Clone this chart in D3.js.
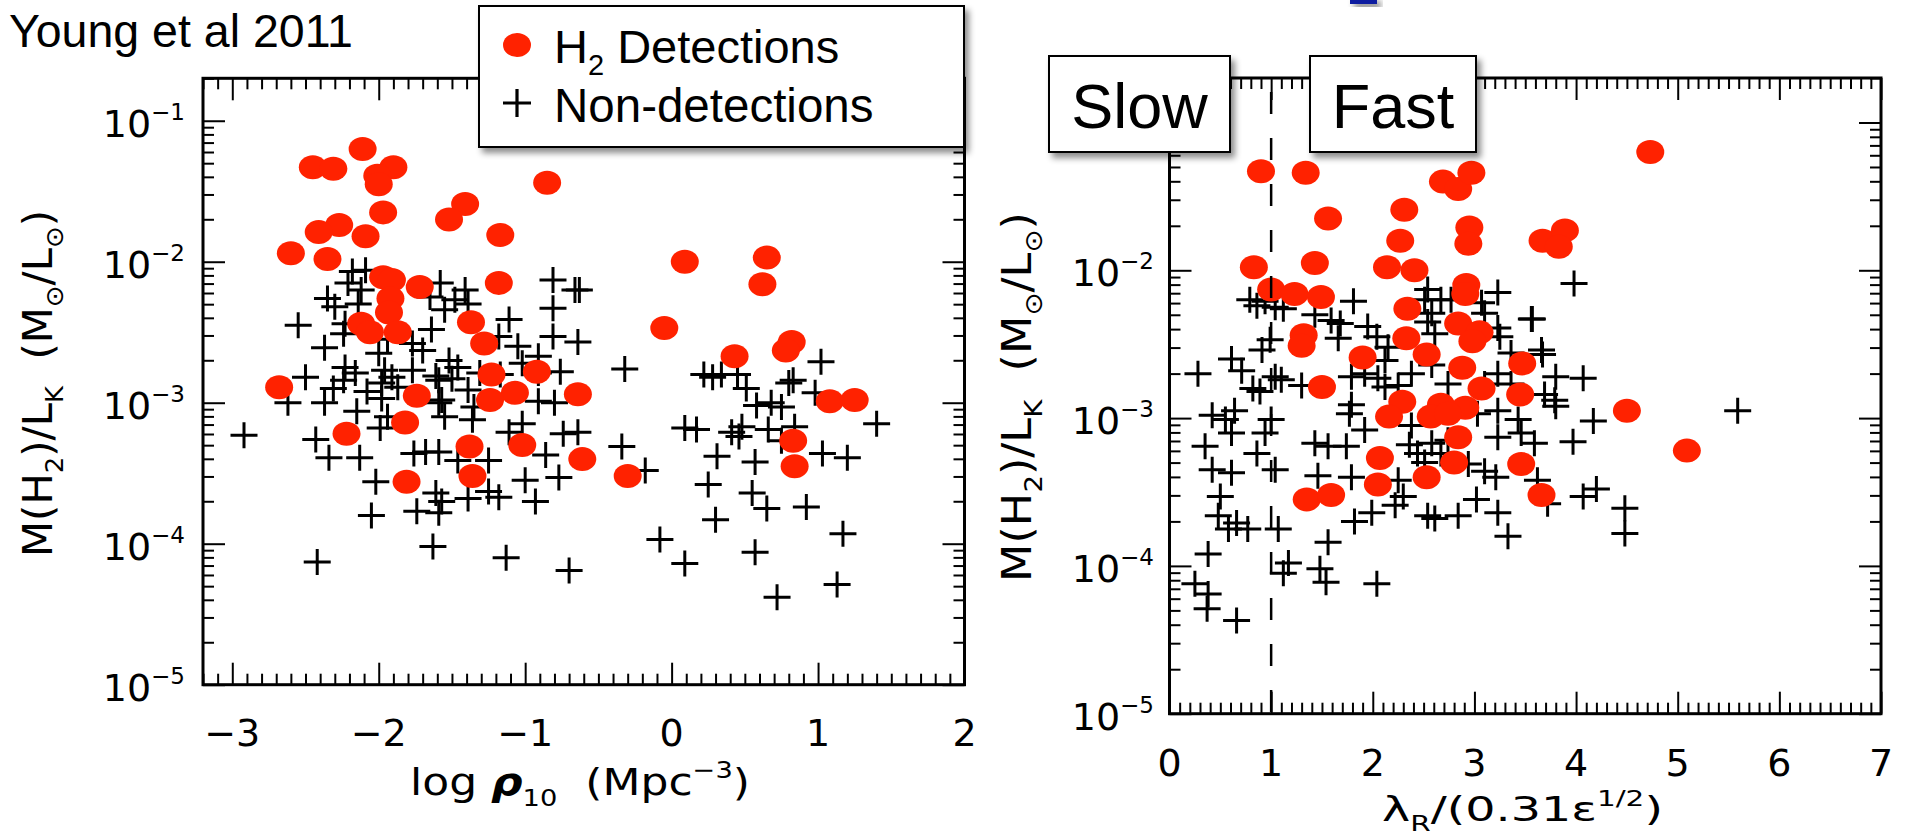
<!DOCTYPE html>
<html>
<head>
<meta charset="utf-8">
<script src="https://cdn.jsdelivr.net/npm/d3@7"></script>
<style>
html, body { margin: 0; padding: 0; background: #fff; }
svg { display: block; }
.tick-label { font-family: "DejaVu Sans", sans-serif; fill: #000; }
.box-label { font-family: "Liberation Sans", Arial, sans-serif; fill: #000; }
</style>
</head>
<body>
<svg id="chart" width="1906" height="838"></svg>
<script>
// values: [x, log10(M(H2)/LK)]
var leftDetections = [
    [-2.11, -1.20], [-2.45, -1.33], [-2.31, -1.34], [-1.90, -1.33], [-2.01, -1.39], [-2.00, -1.45],
    [-0.85, -1.44], [-1.41, -1.59], [-1.52, -1.70], [-1.97, -1.65], [-2.27, -1.74], [-2.41, -1.79],
    [-2.09, -1.82], [-1.17, -1.81], [-2.60, -1.94], [-2.35, -1.98], [-1.97, -2.11], [-1.91, -2.13],
    [-1.72, -2.18], [-1.18, -2.15], [-1.92, -2.26], [-1.93, -2.36], [-2.12, -2.44], [-2.06, -2.50],
    [-1.87, -2.50], [-1.37, -2.43], [-1.28, -2.58], [-1.23, -2.80], [-0.92, -2.78], [-2.68, -2.89],
    [-1.74, -2.95], [-1.82, -3.14], [-2.22, -3.22], [-1.07, -2.93], [-1.24, -2.98], [-0.64, -2.94],
    [-1.38, -3.31], [-1.02, -3.30], [-0.61, -3.40], [-1.36, -3.52], [-1.81, -3.56], [-0.30, -3.52],
    [0.09, -2.00], [0.65, -1.97], [0.62, -2.16], [-0.05, -2.47], [0.43, -2.67], [0.82, -2.57],
    [0.78, -2.63], [1.08, -2.99], [1.25, -2.98], [0.83, -3.27], [0.84, -3.45]
];

var leftNonDetections = [
    [-2.18, -2.07], [-2.09, -2.06], [-2.21, -2.15], [-2.12, -2.20], [-2.35, -2.26], [-2.30, -2.32],
    [-2.14, -2.30], [-2.55, -2.45], [-2.23, -2.44], [-2.37, -2.61], [-1.58, -2.15], [-1.41, -2.20],
    [-1.48, -2.27], [-1.55, -2.34], [-1.39, -2.30], [-1.11, -2.41], [-1.64, -2.48], [-0.81, -2.13],
    [-0.81, -2.33], [-0.66, -2.20], [-0.63, -2.20], [-0.81, -2.53], [-0.64, -2.57], [-1.05, -2.60],
    [-1.18, -2.53], [-1.77, -2.58], [-2.00, -2.65], [-2.23, -2.75], [-1.96, -2.77], [-1.52, -2.70],
    [-1.46, -2.75], [-0.91, -2.67], [-2.50, -2.82], [-1.02, -2.72], [-1.77, -2.77], [-2.24, -2.51],
    [-1.70, -2.63], [-0.91, -2.79], [-2.24, -2.84], [-2.31, -2.90], [-1.91, -2.82], [-1.87, -2.89],
    [-1.57, -2.98], [-2.08, -2.92], [-2.62, -3.00], [-2.37, -3.00], [-1.61, -2.81], [-1.31, -2.79],
    [-1.17, -2.80], [-0.76, -2.78], [-1.94, -2.55], [-1.65, -2.25], [-2.92, -3.23], [-2.43, -3.26],
    [-2.34, -3.39], [-2.13, -3.39], [-2.15, -3.06], [-2.02, -3.56], [-2.05, -3.80], [-1.99, -3.18],
    [-1.94, -3.10], [-1.98, -2.86], [-1.74, -3.77], [-1.59, -3.78], [-1.63, -4.02], [-1.61, -3.64],
    [-1.57, -3.70], [-1.76, -3.36], [-1.68, -3.35], [-1.59, -3.35], [-1.55, -3.10], [-1.59, -3.00],
    [-1.46, -3.41], [-1.36, -3.12], [-1.35, -3.03], [-1.39, -3.68], [-1.25, -3.41], [-1.25, -3.63],
    [-1.18, -3.67], [-1.13, -4.10], [-1.00, -3.55], [-0.93, -3.70], [-0.86, -3.37], [-0.77, -3.53],
    [-0.74, -3.22], [-0.80, -3.00], [-1.02, -3.15], [-1.11, -3.21], [-0.70, -4.19], [-2.42, -4.13],
    [-2.16, -2.79], [-1.59, -2.84], [-1.50, -2.83], [-0.91, -2.99], [-1.98, -2.97], [-1.39, -2.91],
    [-0.32, -2.76], [-0.34, -3.31], [-0.18, -3.48], [0.09, -3.18], [0.17, -3.19], [0.22, -2.80],
    [0.34, -2.80], [0.45, -2.80], [0.51, -2.90], [0.58, -3.02], [0.41, -3.21], [0.46, -3.24],
    [0.48, -3.17], [0.31, -3.38], [0.57, -3.42], [0.25, -3.58], [0.55, -3.64], [0.65, -3.75],
    [0.30, -3.83], [-0.08, -3.97], [0.09, -4.14], [0.57, -4.06], [0.72, -4.38], [0.92, -3.74],
    [1.13, -4.29], [1.17, -3.93], [1.40, -3.15], [1.03, -3.36], [1.20, -3.39], [0.68, -3.00],
    [0.75, -3.03], [0.80, -2.86], [0.83, -2.84], [0.66, -3.19], [0.75, -3.27], [0.84, -3.17],
    [0.98, -2.93], [-0.64, -3.21], [1.02, -2.71], [0.28, -2.82]
];

var rightDetections = [
    [0.90, -1.33], [1.34, -1.34], [2.69, -1.40], [2.84, -1.45], [2.97, -1.34], [2.31, -1.59],
    [1.56, -1.65], [2.95, -1.71], [2.94, -1.82], [3.67, -1.80], [3.89, -1.73], [3.83, -1.84],
    [2.27, -1.80], [0.83, -1.98], [1.43, -1.95], [2.14, -1.98], [2.41, -2.00], [1.00, -2.13],
    [1.23, -2.16], [1.49, -2.18], [2.92, -2.10], [2.91, -2.16], [2.34, -2.26], [2.84, -2.36],
    [3.05, -2.42], [2.98, -2.48], [1.32, -2.44], [1.30, -2.51], [2.33, -2.46], [1.90, -2.59],
    [2.53, -2.57], [2.88, -2.66], [3.47, -2.63], [1.50, -2.79], [3.07, -2.80], [3.45, -2.84],
    [2.29, -2.89], [2.67, -2.91], [2.91, -2.93], [2.16, -2.99], [2.57, -2.99], [2.74, -2.97],
    [2.84, -3.13], [2.07, -3.27], [2.80, -3.30], [2.53, -3.40], [2.05, -3.45], [1.35, -3.55],
    [1.59, -3.52], [3.46, -3.31], [3.66, -3.52], [4.73, -1.20], [4.50, -2.95], [5.09, -3.22]
];

var rightNonDetections = [
    [0.79, -2.20], [0.86, -2.24], [0.94, -2.21], [1.04, -2.25], [1.12, -2.26], [0.91, -2.54],
    [0.99, -2.47], [0.61, -2.60], [0.71, -2.68], [0.82, -2.80], [0.89, -2.82], [0.28, -2.70],
    [1.04, -2.72], [1.10, -2.74], [1.30, -2.78], [1.43, -2.30], [1.59, -2.34], [1.68, -2.36],
    [1.66, -2.46], [1.81, -2.21], [1.95, -2.38], [2.04, -2.45], [2.15, -2.52], [2.12, -2.61],
    [2.05, -2.73], [2.12, -2.79], [2.25, -2.78], [2.38, -2.70], [2.58, -2.64], [2.54, -2.13],
    [2.51, -2.20], [2.67, -2.20], [2.58, -2.29], [2.54, -2.35], [2.61, -2.43], [2.77, -2.20],
    [3.07, -2.22], [3.23, -2.15], [3.10, -2.29], [3.23, -2.39], [3.25, -2.45], [3.56, -2.33],
    [3.36, -2.56], [3.23, -2.70], [3.36, -2.77], [3.10, -2.77], [1.79, -2.91], [1.92, -2.70],
    [2.74, -2.77], [1.79, -2.72], [3.66, -2.54], [0.42, -2.98], [0.55, -3.01], [0.64, -2.95],
    [0.61, -3.10], [0.35, -3.19], [0.42, -3.35], [0.61, -3.37], [0.86, -3.24], [0.94, -3.10],
    [1.00, -3.01], [1.04, -3.35], [0.50, -3.53], [0.48, -3.66], [0.58, -3.75], [0.77, -3.75],
    [0.66, -3.71], [1.07, -3.75], [0.38, -3.92], [0.25, -4.12], [0.38, -4.19], [0.37, -4.29],
    [0.66, -4.37], [1.17, -3.98], [1.12, -4.05], [1.48, -4.02], [1.54, -4.11], [1.56, -3.84],
    [2.04, -4.12], [1.82, -3.70], [1.99, -3.64], [2.22, -3.59], [2.54, -3.66], [2.61, -3.68],
    [2.84, -3.66], [3.02, -3.55], [3.23, -3.64], [3.33, -3.80], [1.43, -3.17], [1.56, -3.19],
    [1.74, -3.19], [1.79, -3.40], [1.46, -3.39], [1.77, -2.97], [1.92, -3.08], [2.25, -3.42],
    [2.30, -3.53], [2.44, -3.24], [2.58, -3.17], [2.67, -3.24], [2.94, -3.31], [3.10, -3.36],
    [3.21, -3.40], [3.03, -2.97], [3.23, -2.95], [3.43, -3.01], [3.46, -3.10], [3.23, -3.13],
    [3.59, -3.17], [3.62, -3.42], [3.98, -2.09], [3.57, -2.33], [3.67, -2.57], [3.80, -2.72],
    [4.07, -2.73], [3.69, -2.84], [3.79, -2.88], [3.80, -2.92], [4.17, -3.02], [3.97, -3.16],
    [5.59, -2.95], [3.72, -3.58], [4.07, -3.53], [4.20, -3.48], [4.48, -3.61], [4.48, -3.78],
    [2.36, -3.18], [2.51, -3.30], [2.38, -3.05], [2.74, -3.15]
];

var leftYExponents = [-1, -2, -3, -4, -5];
var rightYExponents = [-2, -3, -4, -5];   // 10^-1 sits under the "Slow" box
var yDomain = [1e-5, 0.2];
var leftXTicks = [-3, -2, -1, 0, 1, 2];
var rightXTicks = [0, 1, 2, 3, 4, 5, 6, 7];
var slowFastBoundary = 1;

var svg = d3.select("#chart");

var filter = svg.append("defs").append("filter").attr("id", "shadow")
    .attr("x", "-10%").attr("y", "-10%").attr("width", "130%").attr("height", "140%");
filter.append("feDropShadow").attr("dx", 4).attr("dy", 5).attr("stdDeviation", 3)
    .attr("flood-color", "#000").attr("flood-opacity", 0.45);

var panels = [
    {
        xDomain: [-3.2, 2], xRange: [203, 964.5], yRange: [684.7, 78.3],
        xTicks: leftXTicks, yExponents: leftYExponents,
        detections: leftDetections, nonDetections: leftNonDetections,
        yLabelX: 185, xLabelY: 746
    },
    {
        xDomain: [0, 7], xRange: [1169.5, 1881], yRange: [713.7, 78],
        xTicks: rightXTicks, yExponents: rightYExponents,
        detections: rightDetections, nonDetections: rightNonDetections,
        yLabelX: 1154, xLabelY: 776, boundary: slowFastBoundary
    }
];

function styleAxis(g) {
    g.select(".domain").remove();
    g.selectAll("line").attr("stroke", "#000").attr("stroke-width", 2);
}

function isDecade(v) {
    var l = Math.log10(v);
    return Math.abs(l - Math.round(l)) < 1e-6;
}

function drawPanel(p) {
    var x = d3.scaleLinear().domain(p.xDomain).range(p.xRange);
    var y = d3.scaleLog().domain(yDomain).range(p.yRange);
    var left = p.xRange[0], right = p.xRange[1], top = p.yRange[1], bottom = p.yRange[0];
    var g = svg.append("g");

    var xMinor = d3.range(Math.round(p.xDomain[0] * 10), Math.round(p.xDomain[1] * 10) + 1)
        .map(function (i) { return i / 10; })
        .filter(function (v) { return Math.abs(v - Math.round(v)) > 1e-6; });
    var yAll = y.ticks();
    var yMajor = yAll.filter(isDecade);
    var yMinor = yAll.filter(function (v) { return !isDecade(v); });

    [[p.xTicks, 22], [xMinor, 11]].forEach(function (t) {
        g.append("g").attr("transform", "translate(0," + bottom + ")")
            .call(d3.axisBottom(x).tickValues(t[0]).tickSize(-t[1]).tickFormat("")).call(styleAxis);
        g.append("g").attr("transform", "translate(0," + top + ")")
            .call(d3.axisTop(x).tickValues(t[0]).tickSize(-t[1]).tickFormat("")).call(styleAxis);
    });
    [[yMajor, 22], [yMinor, 11]].forEach(function (t) {
        g.append("g").attr("transform", "translate(" + left + ",0)")
            .call(d3.axisLeft(y).tickValues(t[0]).tickSize(-t[1]).tickFormat("")).call(styleAxis);
        g.append("g").attr("transform", "translate(" + right + ",0)")
            .call(d3.axisRight(y).tickValues(t[0]).tickSize(-t[1]).tickFormat("")).call(styleAxis);
    });

    g.append("rect").attr("x", left).attr("y", top).attr("width", right - left).attr("height", bottom - top)
        .attr("fill", "none").attr("stroke", "#000").attr("stroke-width", 3);

    g.append("g").selectAll("path").data(p.nonDetections).join("path")
        .attr("d", function (d) {
            var cx = x(d[0]), cy = y(Math.pow(10, d[1]));
            return "M" + (cx - 13.5) + "," + cy + "h27M" + cx + "," + (cy - 13) + "v26";
        })
        .attr("stroke", "#000").attr("stroke-width", 3).attr("fill", "none");

    g.append("g").selectAll("ellipse").data(p.detections).join("ellipse")
        .attr("cx", function (d) { return x(d[0]); })
        .attr("cy", function (d) { return y(Math.pow(10, d[1])); })
        .attr("rx", 14).attr("ry", 12)
        .attr("fill", "#ff2200");

    if (p.boundary !== undefined) {
        g.append("line").attr("x1", x(p.boundary)).attr("x2", x(p.boundary))
            .attr("y1", 92).attr("y2", bottom)
            .attr("stroke", "#000").attr("stroke-width", 2.5).attr("stroke-dasharray", "22,24");
    }

    p.yExponents.forEach(function (e) {
        var t = g.append("text").attr("class", "tick-label").attr("font-size", 38)
            .attr("x", p.yLabelX).attr("y", y(Math.pow(10, e)) + 16).attr("text-anchor", "end");
        t.append("tspan").text("10");
        t.append("tspan").attr("dy", -17).attr("font-size", 23).text("\u2212" + (-e));
    });

    p.xTicks.forEach(function (v) {
        g.append("text").attr("class", "tick-label").attr("font-size", 38)
            .attr("x", x(v)).attr("y", p.xLabelY).attr("text-anchor", "middle")
            .text(d3.format("d")(v));
    });
}

panels.forEach(drawPanel);

// titles made of normal / subscript / superscript pieces, fitted to the measured length
function richText(parts, size, cx, cy, angle, length) {
    var t = svg.append("text").attr("class", "tick-label").attr("font-size", size)
        .style("white-space", "pre");
    var shift = 0;
    parts.forEach(function (part) {
        var s = t.append("tspan").text(part.t);
        var target = part.sub ? size * 0.28 : part.sup ? -size * 0.45 : 0;
        if (target !== shift) s.attr("dy", target - shift);
        shift = target;
        if (part.sub || part.sup) s.attr("font-size", size * 0.62);
        if (part.bold) s.attr("font-weight", "bold").attr("font-style", "italic");
    });
    var w = t.node().getComputedTextLength();
    t.attr("text-anchor", "middle")
        .attr("transform", "translate(" + cx + "," + cy + ") rotate(" + angle + ") scale(" + (length / w) + ",1)");
    return t;
}

var yTitleParts = [
    {t: "M(H"}, {t: "2", sub: true}, {t: ")/L"}, {t: "K", sub: true},
    {t: "  (M"}, {t: "\u2299", sub: true}, {t: "/L"}, {t: "\u2299", sub: true}, {t: ")"}
];
richText(yTitleParts, 40, 52, 383.5, -90, 347);
richText(yTitleParts, 40, 1031, 397, -90, 370);

richText([
    {t: "log "}, {t: "\u03c1", bold: true}, {t: "10", sub: true},
    {t: "  (Mpc"}, {t: "\u22123", sup: true}, {t: ")"}
], 38, 580, 795, 0, 340);

richText([
    {t: "\u03bb"}, {t: "R", sub: true}, {t: "/(0.31\u03b5"}, {t: "1/2", sup: true}, {t: ")"}
], 34, 1522.5, 821, 0, 281);

svg.append("text").attr("class", "box-label").attr("font-size", 46.5)
    .attr("x", 9).attr("y", 47).text("Young et al 2011");

// legend
var legend = svg.append("g");
legend.append("rect").attr("x", 479).attr("y", 6).attr("width", 485).attr("height", 141)
    .attr("fill", "#fff").attr("stroke", "#000").attr("stroke-width", 2).attr("filter", "url(#shadow)");
legend.append("ellipse").attr("cx", 517).attr("cy", 45).attr("rx", 14).attr("ry", 12).attr("fill", "#ff2200");
legend.append("path").attr("d", "M503,103h28M517,89v28").attr("stroke", "#000").attr("stroke-width", 3.2);
var h2 = legend.append("text").attr("class", "box-label").attr("font-size", 47).attr("x", 554).attr("y", 63);
h2.append("tspan").text("H");
h2.append("tspan").attr("font-size", 29).attr("dy", 12).text("2");
h2.append("tspan").attr("dy", -12).text(" Detections");
legend.append("text").attr("class", "box-label").attr("font-size", 47.5)
    .attr("x", 554).attr("y", 122).text("Non-detections");

// slow / fast boxes
[[1049, 181, "Slow"], [1310, 166, "Fast"]].forEach(function (b) {
    svg.append("rect").attr("x", b[0]).attr("y", 56).attr("width", b[1]).attr("height", 96)
        .attr("fill", "#fff").attr("stroke", "#000").attr("stroke-width", 2).attr("filter", "url(#shadow)");
    svg.append("text").attr("class", "box-label").attr("font-size", 63)
        .attr("x", b[0] + b[1] / 2).attr("y", 128).attr("text-anchor", "middle").text(b[2]);
});

// clipped blue glyph at the top edge
svg.append("rect").attr("x", 1350).attr("y", -4).attr("width", 27).attr("height", 8)
    .attr("fill", "#0f1fa0").attr("filter", "url(#shadow)");
</script>
</body>
</html>
